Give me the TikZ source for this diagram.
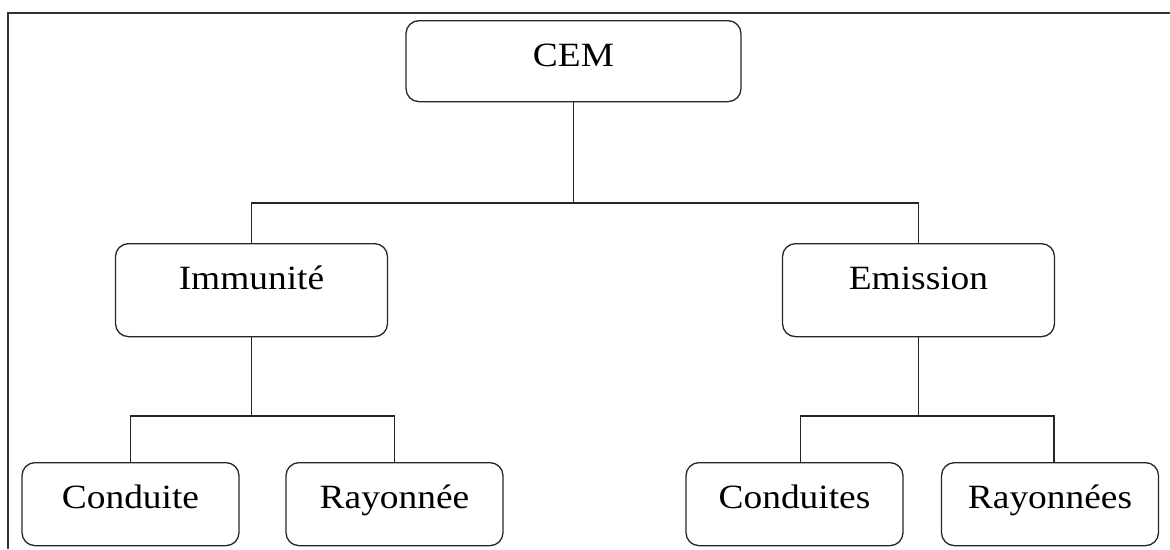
\documentclass[tikz,border=0pt]{standalone}
\usepackage{fontspec}
\setmainfont{Liberation Serif}[FakeStretch=1.1]
\begin{document}
\begin{tikzpicture}[x=1pt,y=1pt,
  box/.style={draw=black!85, line width=1.3pt, rounded corners=13pt,
    inner sep=0pt, anchor=north, font=\fontsize{34}{38}\selectfont,
    text height=46pt},
  topbox/.style={box, minimum width=335pt, text depth=35pt},
  midbox/.style={box, minimum width=272pt, text depth=47pt},
  leafbox/.style={box, minimum width=217pt, text depth=37pt},
  link/.style={draw=black!85, line width=1.3pt},
  frame/.style={draw=black!80, line width=2.2pt}]
\useasboundingbox (0,0) rectangle (1170,-549);
% outer frame (top and left edges)
\draw[frame] (1170,-13) -- (8,-13) -- (8,-549);

% nodes
\node[topbox]  (cem)  at (573.5,-20)  {CEM};
\node[midbox]  (imm)  at (251.5,-243) {Immunité};
\node[midbox]  (emi)  at (918.5,-243) {Emission};
\node[leafbox] (cond) at (130.5,-462) {Conduite};
\node[leafbox] (ray)  at (394.5,-462) {Rayonnée};
\node[leafbox] (conds) at (794.5,-462) {Conduites};
\node[leafbox] (rays) at (1050,-462) {Rayonnées};

% bus levels
\coordinate (bus1) at (0,-203);
\coordinate (bus2) at (0,-416);

% connectors
\draw[link] (cem.south) -- (cem.south |- bus1);
\draw[link] (imm.north) -- (imm.north |- bus1) -- (emi.north |- bus1) -- (emi.north);

\draw[link] (imm.south) -- (imm.south |- bus2);
\draw[link] (cond.north) -- (cond.north |- bus2) -- (ray.north |- bus2) -- (ray.north);

\draw[link] (emi.south) -- (emi.south |- bus2);
\draw[link] ([xshift=6pt]conds.north) -- ([xshift=6pt]conds.north |- bus2)
  -- ([xshift=4pt]rays.north |- bus2) -- ([xshift=4pt]rays.north);
\end{tikzpicture}
\end{document}
